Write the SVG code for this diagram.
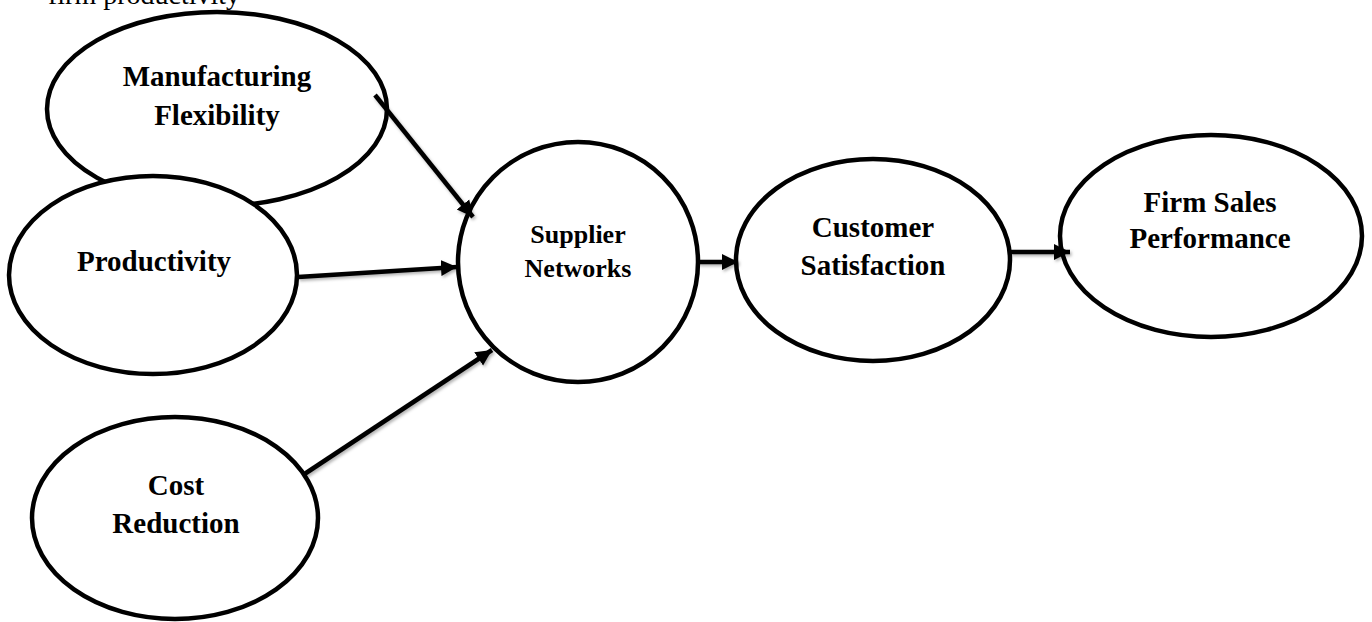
<svg xmlns="http://www.w3.org/2000/svg" width="1372" height="622" viewBox="0 0 1372 622">
<style>
.node ellipse{fill:#fff;stroke:#000;stroke-width:4.5}
.lbl{font-family:"Liberation Serif","Times New Roman",serif;font-weight:bold;font-size:29px;text-anchor:middle;fill:#000}
.sm{font-size:26px}
.conn line{stroke:#000;stroke-width:4.5;marker-end:url(#ah)}
</style>
<defs>
<marker id="ah" markerUnits="userSpaceOnUse" markerWidth="18" markerHeight="18" refX="16" refY="8" orient="auto" viewBox="0 0 18 16">
<path d="M0,0 L16,8 L0,16 Z" fill="#000"/>
</marker>
<filter id="sh" x="-10%" y="-10%" width="130%" height="130%">
<feDropShadow dx="1.5" dy="2" stdDeviation="1.5" flood-color="#000" flood-opacity="0.3"/>
</filter>
</defs>
<rect width="1372" height="622" fill="#fff"/>
<text x="48" y="4" font-family="Liberation Serif, Times New Roman, serif" font-size="28" fill="#000">firm productivity</text>
<g id="n-manufacturing" class="node">
<ellipse cx="217" cy="109" rx="170" ry="97"/>
<text class="lbl" x="217" y="86">Manufacturing</text>
<text class="lbl" x="217" y="125">Flexibility</text>
</g>
<g id="n-productivity" class="node">
<ellipse cx="153" cy="275" rx="144" ry="99"/>
<text class="lbl" x="154" y="271">Productivity</text>
</g>
<g id="n-cost" class="node">
<ellipse cx="175" cy="518" rx="143" ry="101"/>
<text class="lbl" x="176" y="495">Cost</text>
<text class="lbl" x="176" y="533">Reduction</text>
</g>
<g id="n-supplier" class="node">
<ellipse cx="578" cy="262" rx="120" ry="120"/>
<text class="lbl sm" x="578" y="243">Supplier</text>
<text class="lbl sm" x="578" y="277">Networks</text>
</g>
<g id="n-customer" class="node">
<ellipse cx="873" cy="260" rx="137" ry="101"/>
<text class="lbl" x="873" y="237">Customer</text>
<text class="lbl" x="873" y="275">Satisfaction</text>
</g>
<g id="n-firm" class="node">
<ellipse cx="1211" cy="236" rx="151" ry="101"/>
<text class="lbl" x="1210" y="212">Firm Sales</text>
<text class="lbl" x="1210" y="248">Performance</text>
</g>
<g id="connectors" class="conn" filter="url(#sh)">
<line x1="375" y1="95" x2="473" y2="217"/>
<line x1="298" y1="277" x2="457" y2="267"/>
<line x1="303" y1="475" x2="492" y2="350"/>
<line x1="698" y1="262" x2="738" y2="262"/>
<line x1="1010" y1="252" x2="1070" y2="252"/>
</g>
</svg>
